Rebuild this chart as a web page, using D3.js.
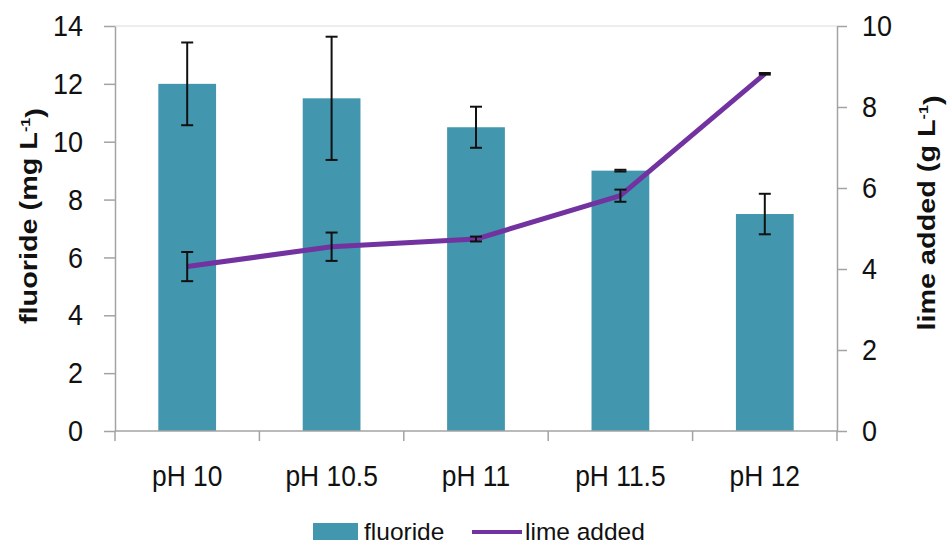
<!DOCTYPE html>
<html>
<head>
<meta charset="utf-8">
<script src="https://cdn.jsdelivr.net/npm/d3@7"></script>
<style>
  html, body { margin: 0; padding: 0; background: #fff; }
  svg { display: block; font-family: "Liberation Sans", Arial, sans-serif; }
</style>
</head>
<body>
<svg id="chart" width="948" height="544"></svg>
<script>
const categories = ["pH 10", "pH 10.5", "pH 11", "pH 11.5", "pH 12"];
const fluoride = [12.0, 11.5, 10.5, 9.0, 7.5];
const fluorideErr = [1.43, 2.13, 0.71, 0.03, 0.70];
const lime = [4.06, 4.55, 4.74, 5.81, 8.82];
const limeErr = [0.36, 0.35, 0.06, 0.15, 0.02];
const leftTicks = [0, 2, 4, 6, 8, 10, 12, 14];
const rightTicks = [0, 2, 4, 6, 8, 10];

const svg = d3.select("#chart");
const plotL = 115, plotR = 837, plotT = 26, plotB = 431;
const axisColor = "#a3a3a3";
const barColor = "#4296ad";
const lineColor = "#7232a0";

const x = d3.scaleBand().domain(categories).range([plotL, plotR]).padding(0);
const yL = d3.scaleLinear().domain([0, 14]).range([plotB, plotT]);
const yR = d3.scaleLinear().domain([0, 10]).range([plotB, plotT]);
const bw = x.bandwidth();
const cx = c => x(c) + bw / 2;

// top border
svg.append("line").attr("x1", plotL).attr("x2", plotR).attr("y1", plotT).attr("y2", plotT)
  .attr("stroke", "#dcdcdc").attr("stroke-width", 1.2);

// bars
svg.append("g").selectAll("rect").data(categories).join("rect")
  .attr("x", c => cx(c) - bw * 0.2)
  .attr("width", bw * 0.4)
  .attr("y", (c, i) => yL(fluoride[i]))
  .attr("height", (c, i) => yL(0) - yL(fluoride[i]))
  .attr("fill", barColor);

// lime line
const line = d3.line().x((d, i) => cx(categories[i])).y(d => yR(d));
svg.append("path").datum(lime).attr("d", line)
  .attr("fill", "none").attr("stroke", lineColor).attr("stroke-width", 5)
  .attr("stroke-linejoin", "round");

// error bars
function errBars(vals, errs, scale) {
  const g = svg.append("g").attr("stroke", "#111").attr("stroke-width", 2).attr("fill", "none");
  categories.forEach((c, i) => {
    const xc = cx(c), y1 = scale(vals[i] + errs[i]), y2 = scale(vals[i] - errs[i]);
    g.append("line").attr("x1", xc).attr("x2", xc).attr("y1", y1).attr("y2", y2);
    g.append("line").attr("x1", xc - 6).attr("x2", xc + 6).attr("y1", y1).attr("y2", y1);
    g.append("line").attr("x1", xc - 6).attr("x2", xc + 6).attr("y1", y2).attr("y2", y2);
  });
}
errBars(fluoride, fluorideErr, yL);
errBars(lime, limeErr, yR);

// axes
function styleAxis(g) {
  g.select(".domain").attr("stroke", axisColor).attr("stroke-width", 1.5);
  g.selectAll(".tick line").attr("stroke", axisColor).attr("stroke-width", 1.5);
  g.selectAll(".tick text").attr("fill", "#111").style("font-size", "27px")
    .style("font-family", '"Liberation Sans", Arial, sans-serif')
    .attr("transform", "scale(1,1.12)");
}
svg.append("g").attr("transform", `translate(${plotL},0)`)
  .call(d3.axisLeft(yL).tickValues(leftTicks).tickSize(11).tickPadding(21).tickSizeOuter(0))
  .call(styleAxis);
svg.append("g").attr("transform", `translate(${plotR},0)`)
  .call(d3.axisRight(yR).tickValues(rightTicks).tickSize(10).tickPadding(15).tickSizeOuter(0))
  .call(styleAxis);

// x axis line + boundary ticks
const xg = svg.append("g");
xg.append("line").attr("x1", plotL).attr("x2", plotR).attr("y1", plotB).attr("y2", plotB)
  .attr("stroke", axisColor).attr("stroke-width", 1.5);
const bounds = categories.map(c => x(c)).concat([x(categories[categories.length - 1]) + bw]);
xg.selectAll("line.tk").data(bounds).join("line").attr("class", "tk")
  .attr("x1", d => d).attr("x2", d => d).attr("y1", plotB).attr("y2", plotB + 10)
  .attr("stroke", axisColor).attr("stroke-width", 1.5);
xg.selectAll("text").data(categories).join("text")
  .attr("text-anchor", "middle")
  .attr("transform", c => `translate(${cx(c)},486) scale(0.96,1.1)`)
  .style("font-size", "27.5px").attr("fill", "#111")
  .text(c => c);

// axis titles (stretched along their length like the reference)
function title(xp, yp, main) {
  const t = svg.append("text")
    .attr("transform", `translate(${xp},${yp}) rotate(-90) scale(1.2,1)`)
    .attr("text-anchor", "middle")
    .style("font-size", "24px").style("font-weight", "bold").attr("fill", "#111");
  t.append("tspan").text(main);
  t.append("tspan").text("-1").attr("dy", "-0.55em").style("font-size", "13.5px");
  t.append("tspan").text(")").attr("dy", "0.55em");
}
title(37, 216, "fluoride (mg L");
title(935, 213, "lime added (g L");

// legend
const lg = svg.append("g");
lg.append("rect").attr("x", 313).attr("y", 523).attr("width", 45).attr("height", 17).attr("fill", barColor);
lg.append("text").attr("x", 364).attr("y", 540).style("font-size", "24.5px").attr("fill", "#111").text("fluoride");
lg.append("line").attr("x1", 472).attr("x2", 522).attr("y1", 532).attr("y2", 532)
  .attr("stroke", lineColor).attr("stroke-width", 4);
lg.append("text").attr("x", 525).attr("y", 540).style("font-size", "24.5px").attr("fill", "#111").text("lime added");
</script>
</body>
</html>
